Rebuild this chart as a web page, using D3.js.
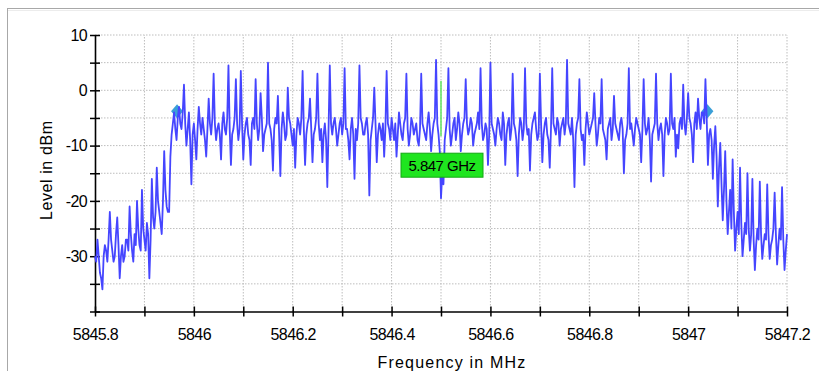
<!DOCTYPE html>
<html>
<head>
<meta charset="utf-8">
<script src="https://cdn.jsdelivr.net/npm/d3@7"></script>
<style>
  body { margin: 0; background: #fff; }
  svg { display: block; font-family: "Liberation Sans", Arial, sans-serif; }
</style>
</head>
<body>
<div id="chart"></div>
<script>
// spectrum trace, one value every 0.0025 MHz starting at 5845.8
const startFreq = 5845.8;
const stepFreq = 0.0025;
const levels = [
  -30, -31, -27, -30, -33, -34, -36, -30, -28, -29, -31, -27, -22, -27, -29, -31, -30, -26, -23, -28,
  -34, -30, -28, -31, -30, -27, -27, -29, -21, -26, -29, -31, -26, -28, -20, -25, -28, -29, -18, -25,
  -27, -29, -24, -26, -34, -27, -16, -23, -25, -22, -14, -20, -22, -24, -26, -20, -11, -18, -21, -22,
  -22, -12, -8, -6, -4, -7, -9, -5, -3, -6, -7, -4, 1, -6, -10, -7, -4, -9, -17, -8,
  -6, -9, -12.5, -7, -3, -6, -8, -5, -7, -9, -12, -7, -1.5, -6, -8, -5, 3, -6, -9, -7,
  -6, -8, -12.5, -6, -4, -7, -8, -5, 4.5, -7, -13.5, -8, -7, -5, 2, -6, -9, -7, 3.5, -6,
  -12.5, -8, -6, -5, -8, -9, -13.5, -6, -5, -7, 2, -6, -9, -7, -0.5, -5, -11, -8, -7, -6,
  5, -6, -7, -9, -14.5, -7, -5, -6, -1, -8, -15.5, -7, -4, -6, -9, -8, 0.5, -5, -6, -8,
  -10, -7, -14, -8, -5, -6, -8, -5, 3.5, -7, -13.5, -8, -6, -5, -1.5, -7, -13, -8, -7, -5,
  3, -6, -9, -7, -13, -8, -6, -9, -17.5, -7, 4.5, -6, -8, -6, -5, -7, -10, -8, -6, -5,
  -8, -6, 4, -7, -7, -9, -12.5, -7, -5, -8, -16, -7, -9, -6, 4.5, -5, -6, -8, -8, -6,
  -5, -8, -19, -9, -7, -5, 0.5, -6, -13, -8, -6, -7, -9, -6, -12, -7, 3.5, -6, -7, -9,
  -5, -7, -9, -6, -12, -8, -4, -6, -8, -9, -6, -5, 3, -7, -10, -8, -5, -6, -8, -7,
  -6, -9, -10, -7, 3, -6, -7, -8, -9, -6, -4, -7, -11, -8, -6, -5, 5.5, -6, -8, -11,
  -19.5, -15, -17, -9, -7, -5, 4, -7, -10, -8, -6, -5, -9, -7, -4, -6, -11, -8, -6, -5,
  2, -6, -8, -7, -5, -6, -10, -8, -7, -6, -4, -7, 4, -6, -9, -8, -6, -7, -13.5, -8,
  5, -6, -7, -8, -10, -7, -5, -6, -8, -9, -4, -6, -13.5, -8, -6, -5, -9, -7, 3, -6,
  -7, -9, -15.5, -8, -5, -6, -9, -7, 4, -6, -8, -7, -14.5, -8, -6, -5, -4, -7, -9, -8,
  3, -6, -13, -8, -6, -5, -8, -9, -14, -7, 4, -6, -7, -8, -5, -6, -10, -7, -6, -5,
  -8, -6, 5.5, -6, -7, -8, -5, -9, -17.5, -8, -6, -5, 2, -7, -9, -8, -13.5, -7, -4, -6,
  -8, -7, -6, -5, -0.5, -6, -10, -8, -5, -6, 2, -7, -8, -9, -12.5, -7, -6, -5, -9, -7,
  -1, -6, -7, -8, -9, -6, -5, -7, -15, -9, -8, -6, 4, -7, -6, -8, -10, -7, -5, -6,
  -7, -8, -13, -7, 2, -6, -8, -7, -5, -9, -16.5, -8, -7, -6, 3, -6, -9, -7, -6, -8,
  -15.5, -8, -5, -6, -8, -7, 3, -6, -7, -5, -12, -8, -10.5, -6, -5, -7, 1, -6, -8, -5,
  -0.5, -5, -6, -8, -13, -6, -4, -7, -1.5, -5, -7, -4, -4, -6, 2, -5, -13.5, -8, -7, -9,
  -16, -10, -6.5, -12, -21, -14, -9.5, -17, -23.5, -18, -11, -20, -26, -22, -18, -25, -12.5, -22, -29, -25,
  -22, -26, -14, -24, -30, -27, -24, -26, -15, -25, -29, -26, -16, -27, -32.5, -28, -25, -27, -16.5, -26,
  -30.5, -28, -26, -27, -17, -26, -30.5, -28, -27, -25, -18.5, -26, -31.5, -28, -25, -27, -17.5, -27, -32.5, -29,
  -26
];

const xTicks = d3.range(0, 15).map(i => +(5845.8 + i * 0.1).toFixed(1));
const yTicks = [-40, -35, -30, -25, -20, -15, -10, -5, 0, 5, 10];
const xLabelled = [5845.8, 5846, 5846.2, 5846.4, 5846.6, 5846.8, 5847, 5847.2];
const yLabelled = [-30, -20, -10, 0, 10];

const markerFreqs = [5845.966, 5847.039];
const markerLevels = [-3.8, -3.8];

const centerFreq = 5846.5;
const centerTop = 1.7;
const centerBottom = -8.3;
const centerLabel = "5.847 GHz";

const width = 819, height = 371;
const margin = {top: 35, right: 32, bottom: 59.5, left: 95};

const svg = d3.select("#chart").append("svg")
    .attr("width", width)
    .attr("height", height);

// outer frame
svg.append("rect")
    .attr("x", 7.5).attr("y", 8.5)
    .attr("width", width).attr("height", height)
    .attr("fill", "none")
    .attr("stroke", "#a8a8a8");
svg.append("line")
    .attr("x1", 8).attr("x2", width)
    .attr("y1", 10.5).attr("y2", 10.5)
    .attr("stroke", "#ececec");

const x = d3.scaleLinear()
    .domain([5845.8, 5847.2])
    .range([margin.left, width - margin.right]);
const y = d3.scaleLinear()
    .domain([-40, 10])
    .range([height - margin.bottom, margin.top]);

// grid
svg.append("g")
  .selectAll("line")
  .data(xTicks.slice(1))
  .join("line")
    .attr("x1", d => x(d)).attr("x2", d => x(d))
    .attr("y1", y(-40)).attr("y2", y(10))
    .attr("stroke", "#bdbdbd")
    .attr("stroke-dasharray", "1.5,1.5");
svg.append("g")
  .selectAll("line")
  .data(yTicks.slice(1))
  .join("line")
    .attr("x1", x(5845.8)).attr("x2", x(5847.2))
    .attr("y1", d => y(d)).attr("y2", d => y(d))
    .attr("stroke", "#bdbdbd")
    .attr("stroke-dasharray", "1.5,1.5");

// axes
const fmt = d3.format("");
const xAxis = svg.append("g")
    .attr("transform", `translate(0,${y(-40)})`)
    .call(d3.axisBottom(x)
      .tickValues(xTicks)
      .tickSize(5)
      .tickSizeOuter(0)
      .tickPadding(12)
      .tickFormat(d => xLabelled.some(v => Math.abs(v - d) < 1e-6) ? fmt(d) : ""));
const yAxis = svg.append("g")
    .attr("transform", `translate(${x(5845.8)},0)`)
    .call(d3.axisLeft(y)
      .tickValues(yTicks)
      .tickSize(5)
      .tickSizeOuter(0)
      .tickPadding(3)
      .tickFormat(d => yLabelled.includes(d) ? d : ""));

xAxis.selectAll(".tick line").attr("y1", -5).attr("stroke-width", 1.5);
yAxis.selectAll(".tick line").attr("x1", 5).attr("stroke-width", 1.5);
[xAxis, yAxis].forEach(a => {
  a.select(".domain").attr("stroke-width", 1.6);
  a.selectAll("text")
    .attr("fill", "#000")
    .style("font-size", "16px")
    .style("letter-spacing", "-0.6px");
});

// markers under the trace
svg.append("g")
  .selectAll("path")
  .data(markerFreqs)
  .join("path")
    .attr("transform", (d, i) => `translate(${x(d)},${y(markerLevels[i])})`)
    .attr("d", "M-6,0L0,-7L6,0L0,7Z")
    .attr("fill", "#3a9fd8");

// trace
const line = d3.line()
    .x((d, i) => x(startFreq + i * stepFreq))
    .y(d => y(d));
svg.append("path")
    .datum(levels)
    .attr("d", line)
    .attr("fill", "none")
    .attr("stroke", "#4545ff")
    .attr("stroke-width", 1.8)
    .attr("stroke-linejoin", "round");

// center frequency line and label
svg.append("line")
    .attr("x1", x(centerFreq)).attr("x2", x(centerFreq))
    .attr("y1", y(centerTop)).attr("y2", y(centerBottom))
    .attr("stroke", "#5fe35f")
    .attr("stroke-width", 1.5);
const box = svg.append("g")
    .attr("transform", `translate(${x(centerFreq)},${y(centerBottom) + 17})`);
box.append("rect")
    .attr("x", -40).attr("y", 0)
    .attr("width", 82).attr("height", 24)
    .attr("fill", "#1fe51f")
    .attr("stroke", "#14a814");
box.append("text")
    .attr("x", 1).attr("y", 18)
    .attr("text-anchor", "middle")
    .style("font-size", "15px")
    .style("letter-spacing", "-0.5px")
    .text(centerLabel);

// axis titles
svg.append("text")
    .attr("transform", `translate(52,${(y(-40) + y(10)) / 2 - 3})rotate(-90)`)
    .attr("text-anchor", "middle")
    .style("font-size", "16px")
    .style("letter-spacing", "0.6px")
    .text("Level in dBm");
svg.append("text")
    .attr("x", 452).attr("y", 368)
    .attr("text-anchor", "middle")
    .style("font-size", "16px")
    .style("letter-spacing", "1.2px")
    .text("Frequency in MHz");
</script>
</body>
</html>
